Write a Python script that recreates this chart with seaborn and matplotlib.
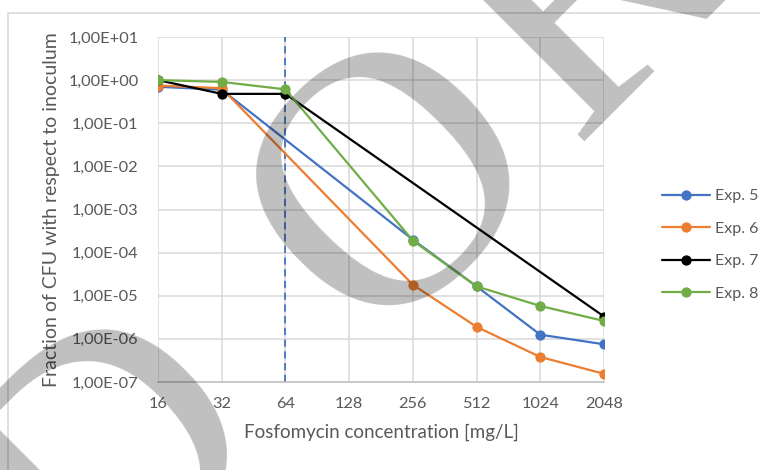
import numpy as np
import pandas as pd
import seaborn as sns
import matplotlib
matplotlib.use("Agg")
import matplotlib.pyplot as plt
from matplotlib import font_manager
from matplotlib.ft2font import FT2Font, LoadFlags
from matplotlib.lines import Line2D
from matplotlib.patches import Rectangle
from matplotlib.ticker import FixedLocator, FixedFormatter, NullLocator

# Fosfomycin concentrations (mg/L)
conc = [16, 32, 64, 128, 256, 512, 1024, 2048]
tick_labels = ["16", "32", "64", "128", "256", "512", "1024", "2048"]

# Fraction of CFU with respect to inoculum (None = not measured)
exp5 = [0.70, 0.60, None, None, 2.0e-4, 1.65e-5, 1.25e-6, 7.5e-7]
exp6 = [0.75, 0.65, None, None, 1.8e-5, 1.9e-6, 3.8e-7, 1.55e-7]
exp7 = [1.0, 0.48, 0.48, None, None, None, None, 3.3e-6]
exp8 = [1.0, 0.91, 0.61, None, 1.9e-4, 1.65e-5, 5.8e-6, 2.6e-6]

series_names = ["Exp. 5", "Exp. 6", "Exp. 7", "Exp. 8"]
series_colors = ["#4472C4", "#ED7D31", "#000000", "#70AD47"]
breakpoint_conc = 64

y_ticks = [1e-7, 1e-6, 1e-5, 1e-4, 1e-3, 1e-2, 1e-1, 1e0, 1e1]
y_tick_labels = ["1,00E-07", "1,00E-06", "1,00E-05", "1,00E-04", "1,00E-03",
                 "1,00E-02", "1,00E-01", "1,00E+00", "1,00E+01"]

watermark = "BORRADOR"

rows = []
for name, vals in zip(series_names, [exp5, exp6, exp7, exp8]):
    for c, v in zip(conc, vals):
        if v is not None:
            rows.append({"conc": c, "frac": v, "exp": name})
df = pd.DataFrame(rows)

sns.set_theme(style="white")
plt.rcParams["font.family"] = ["Lato", "DejaVu Sans"]
text_col = "#595959"
grid_col = "#D9D9D9"

W, H, DPI = 760, 470, 100
fig = plt.figure(figsize=(W / DPI, H / DPI), dpi=DPI)
ax = fig.add_axes([158 / W, 1 - 382 / H, 446 / W, 345 / H])

palette = dict(zip(series_names, series_colors))
sns.lineplot(data=df, x="conc", y="frac", hue="exp", palette=palette,
             hue_order=series_names, marker="o", markersize=7.4,
             markeredgewidth=0, linewidth=1.6, sort=True, legend=False,
             ax=ax, zorder=3)

ax.set_xscale("log", base=2)
ax.set_yscale("log")
ax.set_xlim(16, 2048)
ax.set_ylim(1e-7, 1e1)

ax.xaxis.set_major_locator(FixedLocator(conc))
ax.xaxis.set_major_formatter(FixedFormatter(tick_labels))
ax.xaxis.set_minor_locator(NullLocator())
ax.yaxis.set_major_locator(FixedLocator(y_ticks))
ax.yaxis.set_major_formatter(FixedFormatter(y_tick_labels))
ax.yaxis.set_minor_locator(NullLocator())

ax.grid(True, which="major", color=grid_col, linewidth=1.1)
ax.set_axisbelow(True)
for side in ["top", "right", "left"]:
    ax.spines[side].set_visible(False)
ax.spines["bottom"].set_color("#BFBFBF")
ax.spines["bottom"].set_linewidth(1.1)
ax.tick_params(axis="both", length=0, labelsize=11.8, colors=text_col)
ax.tick_params(axis="x", pad=11)
ax.tick_params(axis="y", pad=14)

ax.axvline(breakpoint_conc, color="#4472C4", linestyle=(0, (4, 2.5)),
           linewidth=1.3, zorder=2)

ax.set_xlabel("Fosfomycin concentration [mg/L]", fontsize=13.5,
              color=text_col, labelpad=9)
ax.set_ylabel("Fraction of CFU with respect to inoculum", fontsize=14,
              color=text_col, labelpad=6)

handles = [Line2D([0], [0], color=c, marker="o", markersize=7.4,
                  markeredgewidth=0, linewidth=1.6) for c in series_colors]
fig.legend(handles, series_names, loc="center left",
           bbox_to_anchor=(648 / W, 1 - 245 / H), frameon=False,
           fontsize=11.5, labelcolor=text_col, handlelength=3.0,
           handletextpad=0.3, labelspacing=1.15)

# chart-area frame
fig.patches.append(Rectangle((8 / W, -0.2), 1.2, 0.2 + (H - 13) / H,
                             transform=fig.transFigure, fill=False,
                             edgecolor=grid_col, linewidth=1.2))

# ---- diagonal draft watermark, set letter by letter ----
wm_family = "Liberation Serif"
wm_size = 263                       # points
angle = 45
anchor_idx = 6                      # the second "O"
o_centre = np.array([379.0, 168.0])  # ink centre of that "O" (pixels, y down)
d_right = -274.0                    # ink right edge of the "D", along baseline
r_stem = 200.0                      # stem centre of the last "R", along baseline

ft = FT2Font(font_manager.findfont(font_manager.FontProperties(family=wm_family)))
ft.set_size(wm_size, DPI)
em = wm_size * DPI / 72.0
glyphs = []
pen = 0.0
for ch in watermark:
    g = ft.load_char(ord(ch), flags=LoadFlags.NO_HINTING)
    left = pen + g.horiBearingX / 64.0
    width = g.width / 64.0
    glyphs.append(dict(left=left, width=width, mid=left + width / 2,
                       ymid=(g.horiBearingY - g.height / 2) / 64.0))
    pen += g.horiAdvance / 64.0

c0 = glyphs[anchor_idx]["mid"]
nat = [gl["mid"] - c0 for gl in glyphs]
# spacing before the anchor letter, set by where the "D" bowl ends
t_d = d_right - glyphs[5]["width"] / 2
extra_left = t_d - nat[5]
# spacing after, set by the stem of the final "R"
t_r = r_stem - 0.11 * em + glyphs[7]["width"] / 2
extra_right = t_r - nat[7]

theta = np.deg2rad(angle)
b = np.array([np.cos(theta), -np.sin(theta)])   # baseline direction
u = np.array([-np.sin(theta), -np.cos(theta)])  # glyph "up" direction
base0 = o_centre - glyphs[anchor_idx]["ymid"] * u
for i, ch in enumerate(watermark):
    if i < anchor_idx:
        t = nat[i] + extra_left * (anchor_idx - i)
    elif i > anchor_idx:
        t = nat[i] + extra_right * (i - anchor_idx)
    else:
        t = 0.0
    p = base0 + t * b
    fig.text(p[0] / W, 1 - p[1] / H, ch, rotation=angle,
             rotation_mode="anchor", ha="center", va="baseline",
             fontsize=wm_size, fontfamily=wm_family,
             color="black", alpha=0.25, zorder=10)

fig.savefig("out.png", dpi=DPI)
